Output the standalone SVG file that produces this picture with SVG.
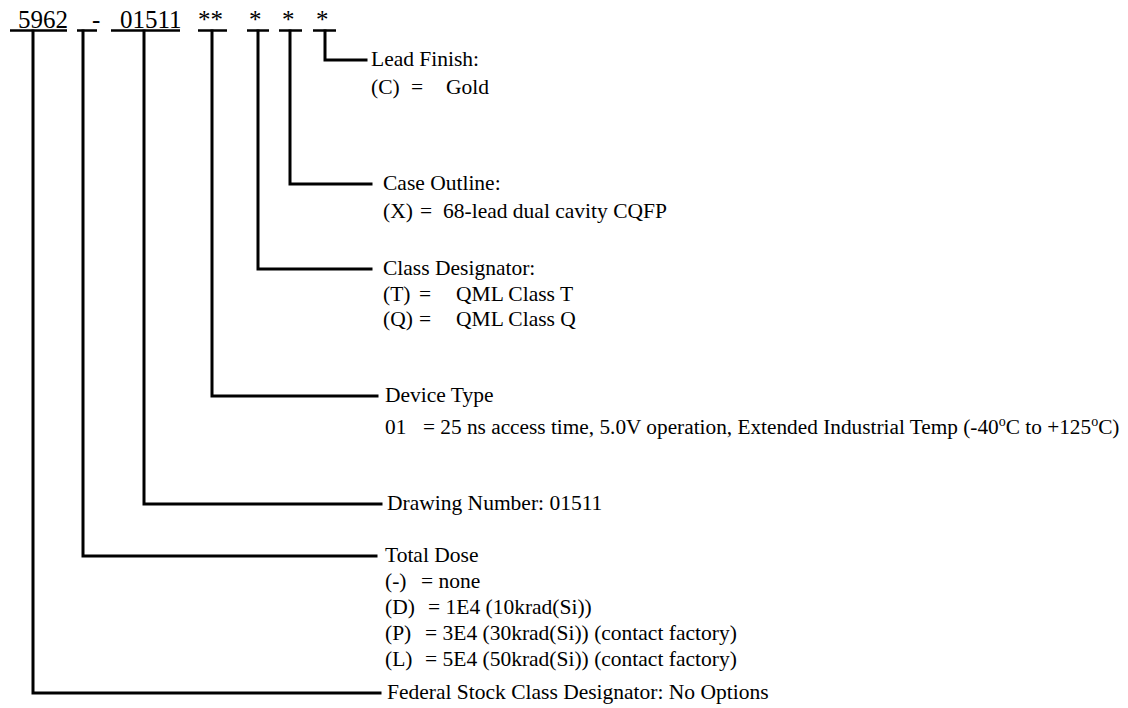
<svg xmlns="http://www.w3.org/2000/svg" width="1128" height="708" viewBox="0 0 1128 708">
<style>
text{font-family:"Liberation Serif","Times New Roman",serif;fill:#000}
.code{font-size:25px}
.t{font-size:21.5px}
.sup{font-size:14px}
.ul{stroke:#000;stroke-width:2.5;fill:none}
.c{stroke:#000;stroke-width:3;fill:none;stroke-linecap:square;stroke-linejoin:miter}
</style>
<rect width="1128" height="708" fill="#fff"/>
<g id="part-number">
<text class="code" x="18" y="28">5962</text>
<text class="code" x="92" y="28">-</text>
<text class="code" x="120" y="28">01511</text>
<text class="code" x="198" y="28">**</text>
<text class="code" x="249" y="28">*</text>
<text class="code" x="282" y="28">*</text>
<text class="code" x="316" y="28">*</text>
<line class="ul" x1="10" y1="30.5" x2="67" y2="30.5"/>
<line class="ul" x1="77" y1="30.5" x2="97" y2="30.5"/>
<line class="ul" x1="111" y1="30.5" x2="180" y2="30.5"/>
<line class="ul" x1="198" y1="30.5" x2="227" y2="30.5"/>
<line class="ul" x1="247" y1="30.5" x2="269" y2="30.5"/>
<line class="ul" x1="279" y1="30.5" x2="302" y2="30.5"/>
<line class="ul" x1="313" y1="30.5" x2="336" y2="30.5"/>
</g>
<g id="connectors">
<polyline class="c" points="325,31 325,60 366,60"/>
<polyline class="c" points="290,31 290,184 371,184"/>
<polyline class="c" points="258,31 258,269 371,269"/>
<polyline class="c" points="212,31 212,396 377,396"/>
<polyline class="c" points="144,31 144,504 381,504"/>
<polyline class="c" points="83,31 83,556 376,556"/>
<polyline class="c" points="33,31 33,693 380,693"/>
</g>
<g id="lead-finish">
<text class="t" x="371" y="66">Lead Finish:</text>
<text class="t" y="94"><tspan x="371">(C)</tspan><tspan x="411">=</tspan><tspan x="446">Gold</tspan></text>
</g>
<g id="case-outline">
<text class="t" x="383" y="190">Case Outline:</text>
<text class="t" y="218"><tspan x="383">(X)</tspan><tspan x="420">=</tspan><tspan x="443">68-lead dual cavity CQFP</tspan></text>
</g>
<g id="class-designator">
<text class="t" x="383" y="275">Class Designator:</text>
<text class="t" y="301"><tspan x="383">(T)</tspan><tspan x="419">=</tspan><tspan x="456">QML Class T</tspan></text>
<text class="t" y="326"><tspan x="383">(Q)</tspan><tspan x="419">=</tspan><tspan x="456">QML Class Q</tspan></text>
</g>
<g id="device-type">
<text class="t" x="385" y="402">Device Type</text>
<text class="t" y="434" style="font-size:21.3px"><tspan x="385">01</tspan><tspan x="423">= 25 ns access time, 5.0V operation, Extended Industrial Temp (-40</tspan><tspan class="sup" dy="-8">o</tspan><tspan dy="8">C to +125</tspan><tspan class="sup" dy="-8">o</tspan><tspan dy="8">C)</tspan></text>
</g>
<g id="drawing-number">
<text class="t" x="387" y="510">Drawing Number: 01511</text>
</g>
<g id="total-dose">
<text class="t" x="385" y="562">Total Dose</text>
<text class="t" y="588"><tspan x="385">(-)</tspan><tspan x="421">= none</tspan></text>
<text class="t" y="614"><tspan x="385">(D)</tspan><tspan x="428">= 1E4 (10krad(Si))</tspan></text>
<text class="t" y="640"><tspan x="385">(P)</tspan><tspan x="425">= 3E4 (30krad(Si)) (contact factory)</tspan></text>
<text class="t" y="666"><tspan x="385">(L)</tspan><tspan x="425">= 5E4 (50krad(Si)) (contact factory)</tspan></text>
</g>
<g id="federal-stock-class">
<text class="t" x="387" y="699">Federal Stock Class Designator: No Options</text>
</g>
</svg>
